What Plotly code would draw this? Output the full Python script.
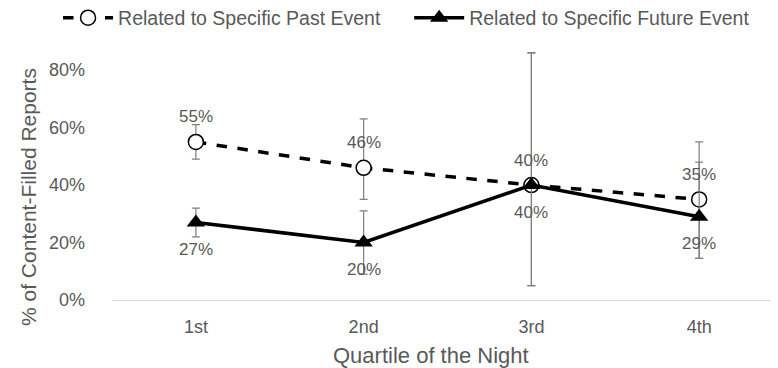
import plotly.graph_objects as go

categories = ["1st", "2nd", "3rd", "4th"]
past_vals = [0.55, 0.46, 0.40, 0.35]
past_upper = [0.61, 0.63, 0.86, 0.55]
past_lower = [0.49, 0.35, 0.05, 0.145]
future_vals = [0.27, 0.20, 0.40, 0.29]
future_upper = [0.32, 0.31, 0.86, 0.48]
future_lower = [0.22, 0.09, 0.05, 0.145]
past_labels = ["55%", "46%", "40%", "35%"]
future_labels = ["27%", "20%", "40%", "29%"]
y_ticks = [0, 0.2, 0.4, 0.6, 0.8]
y_ticktext = ["0%", "20%", "40%", "60%", "80%"]
x_title = "Quartile of the Night"
y_title = "% of Content-Filled Reports"

GRAY = "#595959"
FONT = "Liberation Sans, Arial, sans-serif"

def err(vals, up, lo):
    return dict(type="data", symmetric=False,
                array=[u - v for u, v in zip(up, vals)],
                arrayminus=[v - l for v, l in zip(vals, lo)],
                color="#7f7f7f", thickness=1.2, width=4)

fig = go.Figure()
fig.add_trace(go.Scatter(
    x=categories, y=past_vals, name="Related to Specific Past Event",
    mode="lines+markers", legend="legend",
    line=dict(color="black", width=3.5, dash="dash"),
    marker=dict(symbol="circle", size=15, color="white", line=dict(color="black", width=1.5)),
    error_y=err(past_vals, past_upper, past_lower),
))
fig.add_trace(go.Scatter(
    x=categories, y=future_vals, name="Related to Specific Future Event",
    mode="lines+markers", legend="legend2",
    line=dict(color="black", width=3.5),
    marker=dict(symbol="triangle-up", size=16, color="black"),
    error_y=err(future_vals, future_upper, future_lower),
))

for c, v, t in zip(categories, past_vals, past_labels):
    fig.add_annotation(x=c, y=v, text=t, showarrow=False, yshift=25,
                       font=dict(size=17, color=GRAY, family=FONT))
for c, v, t in zip(categories, future_vals, future_labels):
    fig.add_annotation(x=c, y=v, text=t, showarrow=False, yshift=-27,
                       font=dict(size=17, color=GRAY, family=FONT))

# axis titles placed as annotations for exact positioning
fig.add_annotation(text=x_title, xref="paper", yref="paper", x=0.479, y=0,
                   yshift=-55, showarrow=False, xanchor="center", yanchor="middle",
                   font=dict(size=22, color=GRAY, family=FONT))
fig.add_annotation(text=y_title, xref="paper", yref="paper", x=0, y=0.412,
                   xshift=-84, showarrow=False, xanchor="center", yanchor="middle",
                   textangle=-90, font=dict(size=21, color=GRAY, family=FONT))

leg_common = dict(orientation="h", xanchor="left", xref="container",
                  y=1 - 10 / 360, yref="container", yanchor="middle",
                  font=dict(size=19.5, color=GRAY, family=FONT), itemwidth=50)

fig.update_layout(
    width=770, height=360,
    margin=dict(l=104, r=0, t=42, b=68),
    paper_bgcolor="white", plot_bgcolor="white",
    font=dict(family=FONT, color=GRAY, size=17),
    showlegend=True,
    legend=dict(x=0.065, **leg_common),
    legend2=dict(x=0.521, **leg_common),
    xaxis=dict(range=[-0.5, 3.47], showgrid=False, showline=False, zeroline=False,
               ticks="", tickfont=dict(size=18, color=GRAY), ticklabelstandoff=14),
    yaxis=dict(range=[0, 0.87], tickvals=y_ticks, ticktext=y_ticktext,
               showgrid=False, zeroline=True, zerolinecolor="#d9d9d9", zerolinewidth=1,
               showline=False, ticks="", tickfont=dict(size=18, color=GRAY), ticklabelstandoff=26),
)

fig.write_html("out.html")
